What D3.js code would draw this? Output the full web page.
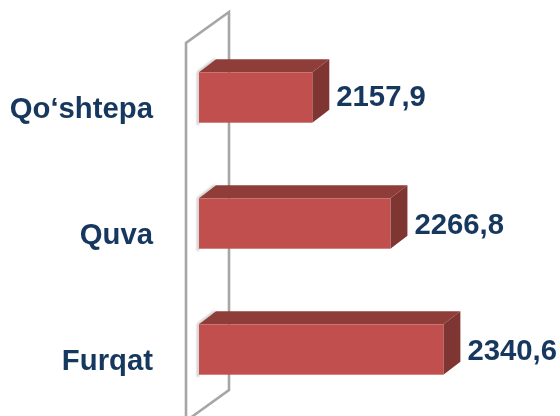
<!DOCTYPE html>
<html lang="en">
<head>
<meta charset="UTF-8">
<title>Chart</title>
<script src="https://d3js.org/d3.v7.min.js"></script>
<style>
    html, body { margin: 0; padding: 0; background: #fff; }
    svg { display: block; }
    text { font-family: "Liberation Sans", Arial, sans-serif; font-weight: bold; fill: #17375e; }
</style>
</head>
<body>
<div id="chart"></div>
<script>

const categories = ["Qo\u2018shtepa", "Quva", "Furqat"];
const values = [2157.9, 2266.8, 2340.6];
const axisMin = 2000;
const axisMax = 2400;

const width = 560;
const height = 416;
const depthX = 17;
const depthY = 13;
// the first value label sits a little higher than the other two
const labelNudge = [-2, 0, 0];

const x = d3.scaleLinear([axisMin, axisMax], [199, 486]);
const y = d3.scaleBand(categories, [34.5, 412.5]).paddingInner(0.6).paddingOuter(0.3);

const fmt = d3.formatLocale({decimal: ",", thousands: "", grouping: [3], currency: ["", ""]}).format(".1f");

const svg = d3.select("#chart").append("svg")
    .attr("width", width)
    .attr("height", height)
    .attr("viewBox", [0, 0, width, height]);

const defs = svg.append("defs");
defs.append("filter").attr("id", "blur")
    .attr("x", "-50%").attr("y", "-50%").attr("width", "200%").attr("height", "200%")
    .append("feGaussianBlur").attr("stdDeviation", 1.2);
// the reference is a soft, rescaled image
defs.append("filter").attr("id", "soft")
    .attr("filterUnits", "userSpaceOnUse")
    .attr("x", 0).attr("y", 0).attr("width", width).attr("height", height)
    .append("feGaussianBlur").attr("stdDeviation", 0.45);

const plot = svg.append("g").attr("filter", "url(#soft)");

// the 3d back wall, sits behind the bars
plot.append("path")
    .attr("d", "M186,425 L186,43 L229,12 L229,390 L186,421")
    .attr("fill", "none")
    .attr("stroke", "#a6a6a6")
    .attr("stroke-width", 2.6);

const bars = plot.append("g").selectAll("g")
    .data(categories)
    .join("g");

function box(d, i) {
    const x0 = x(axisMin);
    const x1 = x(values[i]);
    const y0 = y(d);
    const y1 = y0 + y.bandwidth();
    return {x0, x1, y0, y1};
}

// shadow the bars throw on the wall
bars.append("path")
    .attr("d", (d, i) => {
        const b = box(d, i);
        return `M${b.x0 - 1},${b.y0} L${b.x0 + depthX - 1},${b.y0 - depthY} M${b.x0 - 1},${b.y0} L${b.x0 - 1},${b.y1 + 2}`;
    })
    .attr("fill", "none")
    .attr("stroke", "#bdbdbd")
    .attr("stroke-width", 2)
    .attr("filter", "url(#blur)");

// top face
bars.append("path")
    .attr("d", (d, i) => {
        const b = box(d, i);
        return `M${b.x0},${b.y0} L${b.x0 + depthX},${b.y0 - depthY} L${b.x1 + depthX},${b.y0 - depthY} L${b.x1},${b.y0} Z`;
    })
    .attr("fill", "#8f3c39");

// right face
bars.append("path")
    .attr("d", (d, i) => {
        const b = box(d, i);
        return `M${b.x1},${b.y0} L${b.x1 + depthX},${b.y0 - depthY} L${b.x1 + depthX},${b.y1 - depthY} L${b.x1},${b.y1} Z`;
    })
    .attr("fill", "#7f3533");

// front face
bars.append("rect")
    .attr("x", (d, i) => box(d, i).x0)
    .attr("y", (d, i) => box(d, i).y0)
    .attr("width", (d, i) => box(d, i).x1 - box(d, i).x0)
    .attr("height", y.bandwidth())
    .attr("fill", "#c0504d");

// value labels
bars.append("text")
    .attr("x", (d, i) => box(d, i).x1 + depthX + 7)
    .attr("y", (d, i) => box(d, i).y0 + 36 + labelNudge[i])
    .attr("font-size", 29.3)
    .text((d, i) => fmt(values[i]));

// category axis
const axis = plot.append("g")
    .attr("transform", "translate(153,0)")
    .call(d3.axisLeft(y).tickSize(0).tickPadding(0));
axis.select(".domain").remove();
axis.selectAll("text")
    .attr("font-size", 29.3)
    .attr("font-family", null)
    .attr("dy", "0.7em");

</script>
</body>
</html>
